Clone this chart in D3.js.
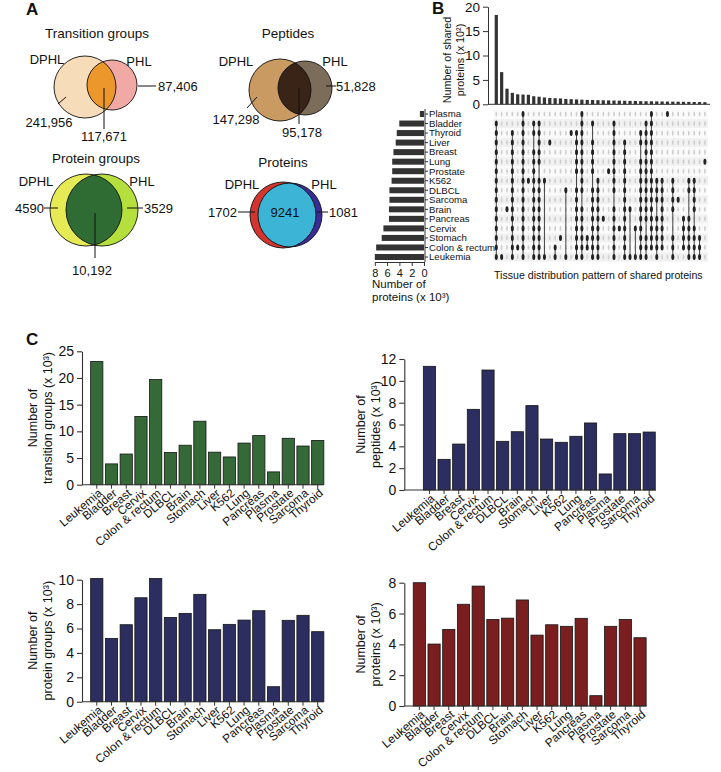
<!DOCTYPE html>
<html><head><meta charset="utf-8">
<script src="https://cdn.jsdelivr.net/npm/d3@7"></script>
<style>
body{margin:0;background:#fff}
svg{display:block}
text{font-family:"Liberation Sans",Arial,sans-serif;fill:#111}
</style>
</head><body>
<svg id="c" width="721" height="772"></svg>
<script>
// ---------------- DATA ----------------
const tissues = ["Leukemia","Bladder","Breast","Cervix","Colon & rectum","DLBCL","Brain","Stomach","Liver","K562","Lung","Pancreas","Plasma","Prostate","Sarcoma","Thyroid"];
const transitionGroups = [23.1,3.9,5.75,12.8,19.7,6.05,7.4,11.9,6.1,5.2,7.8,9.2,2.4,8.7,7.25,8.3];
const peptides = [11.33,2.81,4.21,7.39,10.99,4.46,5.34,7.73,4.67,4.37,4.92,6.14,1.47,5.16,5.16,5.31];
const proteinGroups = [10.1,5.19,6.31,8.52,10.1,6.91,7.24,8.8,5.9,6.34,6.69,7.46,1.23,6.67,7.08,5.74];
const proteins = [8.0,4.02,4.97,6.6,7.78,5.62,5.7,6.88,4.6,5.27,5.17,5.69,0.67,5.17,5.62,4.43];

const vennTitles = ["Transition groups","Peptides","Protein groups","Proteins"];
const vennDPHLOnly = ["241,956","147,298","4590","1702"];
const vennShared = ["117,671","95,178","10,192","9241"];
const vennPHLOnly = ["87,406","51,828","3529","1081"];

const upsetRows = ["Plasma","Bladder","Thyroid","Liver","Breast","Lung","Prostate","K562","DLBCL","Sarcoma","Brain","Pancreas","Cervix","Stomach","Colon & rectum","Leukemia"];
const upsetRowCounts = [0.67,4.02,4.43,4.6,4.97,5.17,5.17,5.27,5.62,5.62,5.7,5.69,6.6,6.88,7.78,8.0];
const upsetSizes = [18.3,6.6,3.2,2.35,2.05,2.0,1.95,1.65,1.55,1.4,1.3,1.25,1.2,1.1,1.05,1.0,0.95,0.9,0.88,0.85,0.82,0.8,0.78,0.75,0.72,0.7,0.68,0.65,0.63,0.62,0.6,0.58,0.56,0.55,0.53,0.52,0.5,0.48,0.46,0.44];
const upsetSets = [
 [1,2,3,4,5,6,7,8,9,10,11,12,13,14,15],
 [15],
 [10],
 [2,3,4,5,6,7,8,9,10,11,12,13,14,15],
 [14],
 [0,1,2,3,4,5,6,7,8,9,10,11,12,13,14,15],
 [7],
 [1,2,4,5,6,7,8,9,10,11,12,13,14,15],
 [1,2,3,4,5,7,8,9,10,11,12,13,14,15],
 [7,15],
 [3],
 [14,15],
 [13],
 [8,15],
 [2],
 [2,3,4,5,6,8,9,10,11,12,13,14,15],
 [0,1,2,3,4,5,6,7,8,10,11,12,13,14,15],
 [13,14],
 [1,3,4,5,6,8,9,10,11,12,13,14,15],
 [7,8,9,10,11,12,13,14,15],
 [11],
 [6],
 [1,2,3,4,5,6,7,8,10,11,12,13,14,15],
 [12],
 [3,4,5,6,7,8,9,10,11,12,13,14,15],
 [10,15],
 [12,15],
 [2,3,5,6,7,8,9,10,11,12,13,14,15],
 [1,2,3,4,5,6,7,8,9,10,11,13,14,15],
 [0,1,2,3,4,5,6,7,8,9,10,11,12,13,14],
 [7,8,9,11,12,13,14,15],
 [7,8,9,10,11,12,13,14],
 [0],
 [7,8,9,10,13,14,15],
 [9],
 [11,12,13,14],
 [7,8,11,12,13,14,15],
 [7,8,9,10,12,13,14,15],
 [13,14,15],
 [5]
];

// ---------------- DRAW ----------------
const svg = d3.select("#c");
const FONT = '"Liberation Sans",Arial,sans-serif';

// panel letters
[["A",26,15],["B",432,14],["C",26,345]].forEach(([t,x,y])=>{
  svg.append("text").attr("x",x).attr("y",y).attr("font-size",17).attr("font-weight","bold").text(t);
});

// ---------- Venn diagrams ----------
let clipId = 0;
function venn(cfg){
  const g = svg.append("g");
  const id = "clip"+(clipId++);
  g.append("clipPath").attr("id",id).append("circle").attr("cx",cfg.c1[0]).attr("cy",cfg.c1[1]).attr("r",cfg.c1[2]);
  g.append("circle").attr("cx",cfg.c1[0]).attr("cy",cfg.c1[1]).attr("r",cfg.c1[2]).attr("fill",cfg.col[0]);
  g.append("circle").attr("cx",cfg.c2[0]).attr("cy",cfg.c2[1]).attr("r",cfg.c2[2]).attr("fill",cfg.col[1]);
  g.append("circle").attr("cx",cfg.c2[0]).attr("cy",cfg.c2[1]).attr("r",cfg.c2[2]).attr("fill",cfg.col[2]).attr("clip-path",`url(#${id})`);
  [cfg.c1,cfg.c2].forEach(c=>g.append("circle").attr("cx",c[0]).attr("cy",c[1]).attr("r",c[2]).attr("fill","none").attr("stroke","#111").attr("stroke-width",0.9));
  g.append("text").attr("x",cfg.title[0]).attr("y",cfg.title[1]).attr("text-anchor","middle").attr("font-size",13.5).text(cfg.titleText);
  g.append("text").attr("x",cfg.dphl[0]).attr("y",cfg.dphl[1]).attr("text-anchor","middle").attr("font-size",13).text("DPHL");
  g.append("text").attr("x",cfg.phl[0]).attr("y",cfg.phl[1]).attr("text-anchor","middle").attr("font-size",13).text("PHL");
  cfg.lines.forEach(l=>g.append("line").attr("x1",l[0]).attr("y1",l[1]).attr("x2",l[2]).attr("y2",l[3]).attr("stroke","#111").attr("stroke-width",1));
  cfg.nums.forEach(n=>g.append("text").attr("x",n[0]).attr("y",n[1]).attr("text-anchor",n[3]).attr("font-size",13).attr("dy","0.35em").text(n[2]));
}
venn({titleText:vennTitles[0], title:[97,38], c1:[85,87,31], c2:[112,85,25], col:["#f6dcb8","#f0a9a5","#ec972c"],
  dphl:[47,64], phl:[139,66],
  lines:[[138,86,156,86],[58,104,66,97],[104,88,104,129]],
  nums:[[158,86,vennPHLOnly[0],"start"],[49,122,vennDPHLOnly[0],"middle"],[104,136,vennShared[0],"middle"]]});
venn({titleText:vennTitles[1], title:[288,38], c1:[280,90,31], c2:[305,88,27], col:["#c99a61","#7c6c5a","#3a2317"],
  dphl:[236,66], phl:[335,66],
  lines:[[326,86,336,86],[247,108,257,97],[299,88,299,124]],
  nums:[[336,86,vennPHLOnly[1],"start"],[236,119,vennDPHLOnly[1],"middle"],[302,132,vennShared[1],"middle"]]});
venn({titleText:vennTitles[2], title:[96,163], c1:[86,210,36], c2:[102,210,36], col:["#e6ea54","#b5df3c","#2f6c34"],
  dphl:[36,186], phl:[142,186],
  lines:[[44,208,58,208],[127,208,143,208],[95,213,95,258]],
  nums:[[44,208,vennDPHLOnly[2],"end"],[144,208,vennPHLOnly[2],"start"],[92,270,vennShared[2],"middle"]]});
venn({titleText:vennTitles[3], title:[283,167], c1:[283,215,33], c2:[290,215,32], col:["#d3342e","#3a2c96","#3cb4d6"],
  dphl:[242,189], phl:[324,189],
  lines:[[238,212,255,212],[317,212,328,212]],
  nums:[[237,212,vennDPHLOnly[3],"end"],[329,212,vennPHLOnly[3],"start"],[285,212,vennShared[3],"middle"]]});

// ---------- UpSet (panel B) ----------
const colX = d3.scaleLinear().domain([0,39]).range([496.3,704.9]);
const rowY = d3.scaleLinear().domain([0,15]).range([114,257]);
const yTop = d3.scaleLinear().domain([0,20]).range([104.3,6.7]);
const xLeft = d3.scaleLinear().domain([0,8]).range([424,374.8]);

const ub = svg.append("g");
// top bars
ub.selectAll("rect.top").data(upsetSizes).join("rect")
  .attr("x",(d,i)=>colX(i)-1.6).attr("width",3.2)
  .attr("y",d=>yTop(d)).attr("height",d=>yTop(0)-yTop(d)).attr("fill","#333");
const topAxis = ub.append("g").attr("transform","translate(488,0)")
  .call(d3.axisLeft(yTop).tickValues([0,5,10,15,20]).tickSize(5).tickSizeOuter(0));
topAxis.selectAll("text").attr("font-size",13.5).attr("font-family",FONT).attr("fill","#111");
topAxis.selectAll("path,line").attr("stroke","#333");
ub.append("line").attr("x1",488).attr("x2",710).attr("y1",yTop(0)).attr("y2",yTop(0)).attr("stroke","#333");
ub.append("text").attr("transform","translate(447,60) rotate(-90)").attr("text-anchor","middle").attr("dy","0.35em").attr("font-size",10.8).text("Number of shared");
ub.append("text").attr("transform","translate(460,60) rotate(-90)").attr("text-anchor","middle").attr("dy","0.35em").attr("font-size",10.8).text("proteins (x 10²)");

// row bands
ub.selectAll("rect.band").data(upsetRows).join("rect")
  .attr("x",colX(0)-3).attr("width",colX(39)-colX(0)+6)
  .attr("y",(d,i)=>rowY(i)-4.5).attr("height",9)
  .attr("fill",(d,i)=>i%2===1?"#f1f1f1":"#fafafa");
// background dots
const bg = [];
upsetSizes.forEach((s,c)=>upsetRows.forEach((r,ri)=>bg.push([c,ri])));
ub.selectAll("ellipse.bg").data(bg).join("ellipse")
  .attr("cx",d=>colX(d[0])).attr("cy",d=>rowY(d[1])).attr("rx",0.9).attr("ry",2.6).attr("fill","#cfcfcf");
// connecting lines + active dots
upsetSets.forEach((set,c)=>{
  const mn = d3.min(set), mx = d3.max(set);
  if (mx>mn) ub.append("line").attr("x1",colX(c)).attr("x2",colX(c)).attr("y1",rowY(mn)).attr("y2",rowY(mx)).attr("stroke","#444").attr("stroke-width",1);
  ub.selectAll(null).data(set).join("ellipse")
    .attr("cx",colX(c)).attr("cy",d=>rowY(d)).attr("rx",1.5).attr("ry",3).attr("fill","#222");
});

// left bars
ub.selectAll("rect.left").data(upsetRowCounts).join("rect")
  .attr("x",d=>xLeft(d)).attr("width",d=>xLeft(0)-xLeft(d))
  .attr("y",(d,i)=>rowY(i)-3).attr("height",6).attr("fill","#333");
ub.append("line").attr("x1",425).attr("x2",425).attr("y1",109).attr("y2",262).attr("stroke","#333");
upsetRows.forEach((r,i)=>{
  ub.append("line").attr("x1",425).attr("x2",428).attr("y1",rowY(i)).attr("y2",rowY(i)).attr("stroke","#333");
  ub.append("text").attr("x",429).attr("y",rowY(i)).attr("dy","0.35em").attr("font-size",9.6).text(r);
});
const leftAxis = ub.append("g").attr("transform","translate(0,262)")
  .call(d3.axisBottom(xLeft).tickValues([0,2,4,6,8]).tickSize(4).tickSizeOuter(0));
leftAxis.selectAll("text").attr("font-size",11).attr("font-family",FONT).attr("fill","#111");
leftAxis.selectAll("path,line").attr("stroke","#333");
ub.append("text").attr("x",372).attr("y",288).attr("font-size",11.5).text("Number of");
ub.append("text").attr("x",372).attr("y",301).attr("font-size",11.5).text("proteins (x 10³)");
ub.append("text").attr("x",494).attr("y",279).attr("font-size",10.6).text("Tissue distribution pattern of shared proteins");

// ---------- Bar charts (panel C) ----------
function barChart(o){
  const g = svg.append("g");
  const x = d3.scaleBand().domain(tissues).range([o.r0,o.r1]).paddingInner(0.17).paddingOuter(0.085);
  const y = d3.scaleLinear().domain([0,o.yMax]).range([o.yb,o.yt]);
  g.selectAll("rect").data(o.values).join("rect")
    .attr("x",(d,i)=>x(tissues[i])).attr("width",x.bandwidth())
    .attr("y",d=>y(d)).attr("height",d=>y(0)-y(d))
    .attr("fill",o.color).attr("stroke","#151515").attr("stroke-width",0.8);
  const ya = g.append("g").attr("transform",`translate(${o.ax},0)`)
    .call(d3.axisLeft(y).tickValues(o.ticks).tickSize(5).tickSizeOuter(0));
  ya.selectAll("text").attr("font-size",14).attr("font-family",FONT).attr("fill","#111");
  ya.selectAll("path,line").attr("stroke","#333").attr("stroke-width",1.1);
  g.append("line").attr("x1",o.ax).attr("x2",o.axEnd).attr("y1",o.yb).attr("y2",o.yb).attr("stroke","#333").attr("stroke-width",1.1);
  tissues.forEach(t=>{
    const cx = x(t)+x.bandwidth()/2;
    g.append("line").attr("x1",cx).attr("x2",cx).attr("y1",o.yb).attr("y2",o.yb+4).attr("stroke","#333");
    g.append("text").attr("transform",`translate(${cx+3.5},${o.yb+6.5}) rotate(-40)`)
      .attr("text-anchor","end").attr("dy","0.35em").attr("font-size",11.8).text(t);
  });
  const ym = (o.yb+o.yt)/2;
  g.append("text").attr("transform",`translate(${o.l1},${ym}) rotate(-90)`).attr("text-anchor","middle").attr("dy","0.35em").attr("font-size",12.5).text("Number of");
  g.append("text").attr("transform",`translate(${o.l2},${ym}) rotate(-90)`).attr("text-anchor","middle").attr("dy","0.35em").attr("font-size",12.5).text(o.label);
}
barChart({values:transitionGroups,color:"#356a38",yMax:25,ticks:[0,5,10,15,20,25],yb:484.7,yt:351.3,ax:82,axEnd:323.5,r0:89.4,r1:325.1,l1:33,l2:48,label:"transition groups (x 10³)"});
barChart({values:peptides,color:"#2b2e5e",yMax:12,ticks:[0,2,4,6,8,10,12],yb:490,yt:359,ax:404.3,axEnd:656,r0:422.1,r1:656.5,l1:361,l2:376,label:"peptides  (x 10³)"});
barChart({values:proteinGroups,color:"#2b2e5e",yMax:10,ticks:[0,2,4,6,8,10],yb:701.7,yt:579.7,ax:82,axEnd:323.5,r0:89.4,r1:325.1,l1:33,l2:48,label:"protein groups (x 10³)"});
barChart({values:proteins,color:"#7a1e1f",yMax:8,ticks:[0,2,4,6,8],yb:706,yt:582.7,ax:404.3,axEnd:646.5,r0:412,r1:647.4,l1:361,l2:376,label:"proteins (x 10³)"});
</script>
</body></html>
